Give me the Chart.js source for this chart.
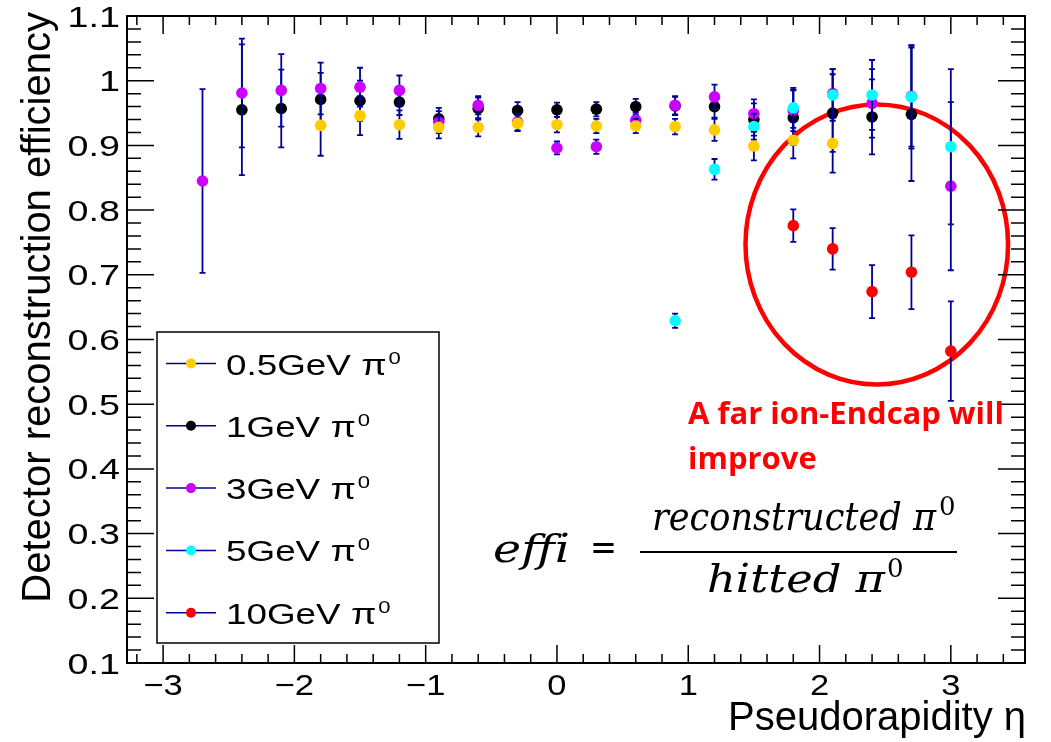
<!DOCTYPE html>
<html>
<head>
<meta charset="utf-8">
<script src="https://cdn.jsdelivr.net/npm/chart.js@4.4.0/dist/chart.umd.min.js"></script>
<style>
    html, body { margin: 0; padding: 0; background: #fff; }
    #wrap { width: 1051px; height: 742px; }
</style>
</head>
<body>
<div id="wrap"><canvas id="effChart" width="1051" height="742"></canvas></div>
<script>
// eta bin centres shared by every sample
const etaBins = [-2.7, -2.4, -2.1, -1.8, -1.5, -1.2, -0.9, -0.6, -0.3, 0.0, 0.3, 0.6, 0.9, 1.2, 1.5, 1.8, 2.1, 2.4, 2.7, 3.0];

// efficiency per bin (null = no point) and its error
const eff05GeV = [null, null, null, 0.931, 0.946, 0.932, 0.928, 0.928, 0.934, 0.932, 0.930, 0.930, 0.929, 0.924, 0.899, 0.908, 0.903, null, null, null];
const err05GeV = [null, null, null, 0.047, 0.030, 0.022, 0.017, 0.014, 0.012, 0.012, 0.011, 0.011, 0.012, 0.017, 0.022, 0.028, 0.045, null, null, null];

const eff1GeV = [null, 0.955, 0.957, 0.971, 0.969, 0.967, 0.941, 0.957, 0.954, 0.955, 0.956, 0.960, 0.961, 0.960, 0.940, 0.943, 0.950, 0.944, 0.948, null];
const err1GeV = [null, 0.101, 0.060, 0.041, 0.031, 0.020, 0.017, 0.017, 0.013, 0.011, 0.011, 0.012, 0.014, 0.017, 0.025, 0.042, 0.060, 0.058, 0.103, null];

const eff3GeV = [0.845, 0.981, 0.985, 0.988, 0.990, 0.985, 0.936, 0.962, 0.936, 0.896, 0.898, 0.939, 0.962, 0.975, 0.949, 0.954, 0.980, 0.965, 0.976, 0.837];
const err3GeV = [0.142, 0.084, 0.056, 0.040, 0.030, 0.023, 0.017, 0.014, 0.013, 0.010, 0.011, 0.012, 0.014, 0.019, 0.022, 0.032, 0.038, 0.053, 0.078, 0.130];

const eff5GeV = [null, null, null, null, null, null, null, null, null, null, null, null, 0.629, 0.863, 0.929, 0.958, 0.978, 0.978, 0.975, 0.898];
const err5GeV = [null, null, null, null, null, null, null, null, null, null, null, null, 0.011, 0.016, 0.020, 0.031, 0.040, 0.054, 0.080, 0.120];

const eff10GeV = [null, null, null, null, null, null, null, null, null, null, null, null, null, null, null, 0.776, 0.740, 0.674, 0.704, 0.582];
const err10GeV = [null, null, null, null, null, null, null, null, null, null, null, null, null, null, null, 0.025, 0.032, 0.041, 0.057, 0.077];

const sampleLabels = ['0.5GeV', '1GeV', '3GeV', '5GeV', '10GeV'];
const xTickValues = [-3, -2, -1, 0, 1, 2, 3];
const xTickLabels = ['\u22123', '\u22122', '\u22121', '0', '1', '2', '3'];
const yTickValues = [0.1, 0.2, 0.3, 0.4, 0.5, 0.6, 0.7, 0.8, 0.9, 1.0, 1.1];
const yTickLabels = ['0.1', '0.2', '0.3', '0.4', '0.5', '0.6', '0.7', '0.8', '0.9', '1', '1.1'];

const markerColors = ['#ffcc00', '#000000', '#cc00ff', '#00ffff', '#ff0000'];
const drawOrder = [0, 3, 2, 1, 4];   // lower = drawn on top
const barColor = '#000099';

function toPoints(values, errors) {
    const pts = [];
    etaBins.forEach((eta, i) => {
        if (values[i] !== null) pts.push({ x: eta, y: values[i], err: errors[i] });
    });
    return pts;
}

const allValues = [eff05GeV, eff1GeV, eff3GeV, eff5GeV, eff10GeV];
const allErrors = [err05GeV, err1GeV, err3GeV, err5GeV, err10GeV];

const datasets = sampleLabels.map((label, k) => ({
    label: label,
    data: toPoints(allValues[k], allErrors[k]),
    backgroundColor: markerColors[k],
    borderColor: markerColors[k],
    pointRadius: 5.8,
    pointBorderWidth: 0,
    showLine: false,
    order: drawOrder[k]
}));

// text squeezed/stretched horizontally by sx
function drawText(ctx, str, x, y, font, sx, align) {
    ctx.save();
    ctx.font = font;
    ctx.textAlign = 'left';
    ctx.textBaseline = 'alphabetic';
    const w = ctx.measureText(str).width * sx;
    const x0 = align === 'right' ? x - w : (align === 'center' ? x - w / 2 : x);
    ctx.translate(x0, y);
    ctx.scale(sx, 1);
    ctx.fillText(str, 0, 0);
    ctx.restore();
    return w;
}

// same, but stretched so the string spans the given width
function drawTextFit(ctx, str, x, y, font, width) {
    ctx.save();
    ctx.font = font;
    const sx = width / ctx.measureText(str).width;
    ctx.restore();
    return drawText(ctx, str, x, y, font, sx, 'left');
}

// vertical error bars with small caps, under each sample's markers
const errorBars = {
    id: 'errorBars',
    beforeDatasetDraw(chart, args) {
        const ctx = chart.ctx;
        const yScale = chart.scales.y;
        const ds = chart.data.datasets[args.index];
        ctx.save();
        ctx.strokeStyle = barColor;
        ctx.lineWidth = 1.8;
        args.meta.data.forEach((pt, i) => {
            const d = ds.data[i];
            const top = yScale.getPixelForValue(d.y + d.err);
            const bot = yScale.getPixelForValue(d.y - d.err);
            ctx.beginPath();
            ctx.moveTo(pt.x, top); ctx.lineTo(pt.x, bot);
            ctx.moveTo(pt.x - 3, top); ctx.lineTo(pt.x + 3, top);
            ctx.moveTo(pt.x - 3, bot); ctx.lineTo(pt.x + 3, bot);
            ctx.stroke();
        });
        ctx.restore();
    }
};

// red ellipse around the forward region
const forwardRing = {
    id: 'forwardRing',
    beforeDatasetsDraw(chart) {
        const { ctx, scales: { x, y } } = chart;
        const cx = x.getPixelForValue(2.436), cy = y.getPixelForValue(0.747);
        const rx = x.getPixelForValue(3.436) - cx;
        const ry = cy - y.getPixelForValue(0.747 + 0.2164);
        ctx.save();
        ctx.strokeStyle = '#ff0000';
        ctx.lineWidth = 4.5;
        ctx.beginPath();
        ctx.ellipse(cx, cy, rx, ry, 0, 0, Math.PI * 2);
        ctx.stroke();
        ctx.restore();
    }
};

// ROOT style frame: box, inward ticks on all four sides, labels, legend, notes
const rootFrame = {
    id: 'rootFrame',
    afterDraw(chart) {
        const { ctx, chartArea: a, scales: { x, y } } = chart;
        ctx.save();

        // legend box
        const lg = { l: 157, t: 332, r: 439, b: 643 };
        ctx.fillStyle = '#fff';
        ctx.fillRect(lg.l, lg.t, lg.r - lg.l, lg.b - lg.t);
        ctx.strokeStyle = '#000';
        ctx.lineWidth = 1.5;
        ctx.strokeRect(lg.l, lg.t, lg.r - lg.l, lg.b - lg.t);
        sampleLabels.forEach((label, k) => {
            const ey = 363.5 + k * 62.3;
            ctx.strokeStyle = barColor;
            ctx.lineWidth = 1.5;
            ctx.beginPath(); ctx.moveTo(166, ey); ctx.lineTo(216, ey); ctx.stroke();
            ctx.fillStyle = markerColors[k];
            ctx.beginPath(); ctx.arc(191, ey, 5, 0, Math.PI * 2); ctx.fill();
            ctx.fillStyle = '#000';
            const w = drawText(ctx, label + ' \u03c0', 226, ey + 11, '29px "Liberation Sans"', 1.27, 'left');
            drawText(ctx, '0', 226 + w + 2, ey, '17px "Liberation Sans"', 1.3, 'left');
        });

        // frame
        ctx.strokeStyle = '#000';
        ctx.lineWidth = 2;
        ctx.strokeRect(a.left, a.top, a.right - a.left, a.bottom - a.top);

        // ticks
        ctx.lineWidth = 1.5;
        ctx.beginPath();
        for (let k = Math.ceil(x.min / 0.2); k <= Math.floor(x.max / 0.2); k++) {
            const px = x.getPixelForValue(k * 0.2);
            const len = k % 5 === 0 ? 18 : 9;
            ctx.moveTo(px, a.bottom); ctx.lineTo(px, a.bottom - len);
            ctx.moveTo(px, a.top); ctx.lineTo(px, a.top + len);
        }
        for (let k = 5; k <= 55; k++) {
            const py = y.getPixelForValue(k * 0.02);
            const len = k % 5 === 0 ? 27 : 14;
            ctx.moveTo(a.left, py); ctx.lineTo(a.left + len, py);
            ctx.moveTo(a.right, py); ctx.lineTo(a.right - len, py);
        }
        ctx.stroke();

        // tick labels
        ctx.fillStyle = '#000';
        xTickValues.forEach((v, i) => {
            drawText(ctx, xTickLabels[i], x.getPixelForValue(v), 695, '30px "Liberation Sans"', 1.15, 'center');
        });
        yTickValues.forEach((v, i) => {
            drawText(ctx, yTickLabels[i], 120, y.getPixelForValue(v) + 10.5, '29px "Liberation Sans"', 1.3, 'right');
        });

        // axis titles
        drawText(ctx, 'Pseudorapidity \u03b7', 1026, 730, '40px "Liberation Sans"', 1.0, 'right');
        ctx.save();
        ctx.translate(50, 12);
        ctx.rotate(-Math.PI / 2);
        ctx.font = '40px "Liberation Sans"';
        ctx.textAlign = 'right';
        ctx.fillText('Detector reconstruction efficiency', 0, 0);
        ctx.restore();

        // note
        ctx.fillStyle = '#ff0000';
        drawText(ctx, 'A far ion-Endcap will', 688, 424, 'bold 31px "Open Sans"', 1.0, 'left');
        drawText(ctx, 'improve', 688, 469, 'bold 31px "Open Sans"', 1.0, 'left');

        // efficiency definition
        ctx.fillStyle = '#000';
        const mathFont = 'italic 40px "DejaVu Serif"';
        drawTextFit(ctx, 'effi', 493, 562, mathFont, 77);
        drawTextFit(ctx, '=', 590, 560, '38px "DejaVu Serif"', 27);
        drawTextFit(ctx, 'reconstructed \u03c0', 652, 530, mathFont, 284);
        drawText(ctx, '0', 939, 515, '26px "DejaVu Serif"', 1.0, 'left');
        ctx.lineWidth = 2;
        ctx.beginPath(); ctx.moveTo(640, 552); ctx.lineTo(957, 552); ctx.stroke();
        drawTextFit(ctx, 'hitted \u03c0', 707, 592, mathFont, 178);
        drawText(ctx, '0', 887, 577, '26px "DejaVu Serif"', 1.0, 'left');

        ctx.restore();
    }
};

new Chart(document.getElementById('effChart').getContext('2d'), {
    type: 'scatter',
    data: { datasets: datasets },
    options: {
        responsive: false,
        animation: false,
        devicePixelRatio: 1,
        events: [],
        layout: { padding: { left: 127, top: 16, right: 26, bottom: 79 } },
        plugins: { legend: { display: false }, tooltip: { enabled: false } },
        scales: {
            x: { type: 'linear', min: -3.275, max: 3.565, display: false },
            y: { type: 'linear', min: 0.1, max: 1.1, display: false }
        }
    },
    plugins: [forwardRing, errorBars, rootFrame]
});
</script>
</body>
</html>
